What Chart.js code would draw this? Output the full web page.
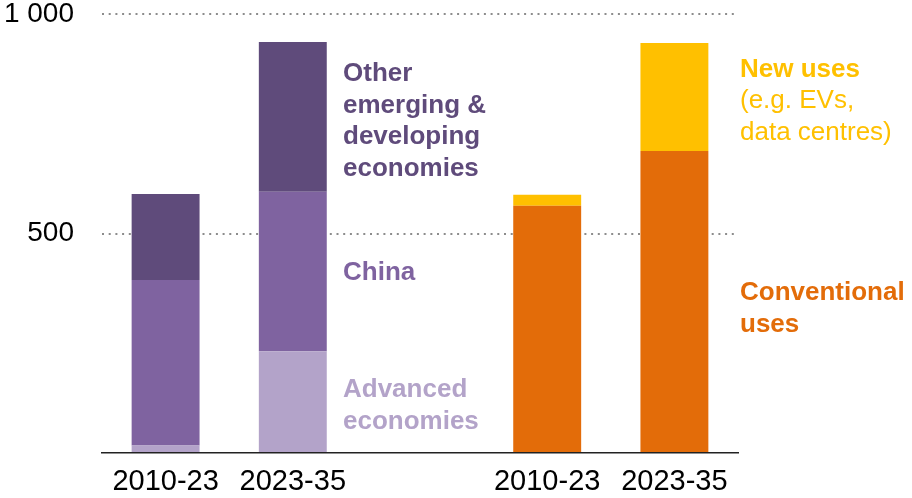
<!DOCTYPE html>
<html>
<head>
<meta charset="utf-8">
<script src="https://cdn.jsdelivr.net/npm/chart.js@4"></script>
<style>
  html, body { margin: 0; padding: 0; background: #fff; }
  #wrap { width: 912px; height: 498px; }
</style>
</head>
<body>
<div id="wrap"><canvas id="chart"></canvas></div>
<script>
// periods, with an empty slot separating the two groups
const categories = ['2010-23', '2023-35', '', '2010-23', '2023-35'];

// by region
const advanced      = [17, 232, null, null, null];
const china         = [377, 363, null, null, null];
const otherEmerging = [196, 341, null, null, null];

// by use
const conventional = [null, null, null, 563, 688];
const newUses      = [null, null, null, 25, 246];

const yTicks = [0, 500, 1000];
const yTickLabels = ['', '500', '1 000'];

const FONT = '"Liberation Sans", Arial, sans-serif';

// text labels to the right of the bars
const notes = [
    { x: 343, y: 81, color: '#5F4B7B', bold: true, lines: ['Other', 'emerging &', 'developing', 'economies'] },
    { x: 343, y: 280, color: '#7F63A0', bold: true, lines: ['China'] },
    { x: 343, y: 397, color: '#B3A3C9', bold: true, lines: ['Advanced', 'economies'] },
    { x: 740, y: 77, color: '#FFC000', bold: true, lines: ['New uses'] },
    { x: 740, y: 108, color: '#FFC000', bold: false, lines: ['(e.g. EVs,', 'data centres)'] },
    { x: 740, y: 300, color: '#E36C09', bold: true, lines: ['Conventional', 'uses'] }
];

const notesPlugin = {
    id: 'notes',
    afterDatasetsDraw(chart) {
        const ctx = chart.ctx;
        ctx.save();
        ctx.textAlign = 'left';
        ctx.textBaseline = 'alphabetic';
        notes.forEach(n => {
            ctx.fillStyle = n.color;
            ctx.font = (n.bold ? 'bold ' : '') + '26px ' + FONT;
            n.lines.forEach((line, i) => ctx.fillText(line, n.x, n.y + i * 31.5));
        });
        ctx.restore();
    }
};

function bar(label, data, color) {
    return {
        label, data,
        backgroundColor: color,
        stack: 'all',
        barPercentage: 0.534,
        categoryPercentage: 1
    };
}

const chart = new Chart(document.getElementById('chart'), {
    type: 'bar',
    data: {
        labels: categories,
        datasets: [
            bar('Advanced economies', advanced, '#B3A3C9'),
            bar('China', china, '#7F63A0'),
            bar('Other emerging & developing economies', otherEmerging, '#5F4B7B'),
            bar('Conventional uses', conventional, '#E36C09'),
            bar('New uses', newUses, '#FFC000')
        ]
    },
    options: {
        responsive: true,
        maintainAspectRatio: false,
        animation: false,
        layout: { padding: { top: 14, right: 174, bottom: 0, left: 0 } },
        plugins: {
            legend: { display: false },
            tooltip: { enabled: false }
        },
        scales: {
            x: {
                stacked: true,
                grid: { display: false, drawTicks: false },
                border: { display: true, color: '#222', width: 1.5 },
                ticks: {
                    color: '#000',
                    font: { family: FONT, size: 29 },
                    padding: 12,
                    maxRotation: 0,
                    autoSkip: false
                },
                afterFit(scale) {
                    scale.height = 45;
                    scale.paddingLeft = 0;
                    scale.paddingRight = 0;
                }
            },
            y: {
                stacked: true,
                min: 0,
                max: 1000,
                afterBuildTicks(scale) {
                    scale.ticks = yTicks.map(v => ({ value: v }));
                },
                grid: {
                    drawTicks: false,
                    lineWidth: 2,
                    color: ctx => ctx.tick && ctx.tick.value === 0 ? 'rgba(0,0,0,0)' : '#8C8C8C'
                },
                border: { display: false, dash: [2, 4.7] },
                ticks: {
                    color: '#000',
                    font: { family: FONT, size: 28 },
                    padding: 28,
                    callback: (value) => yTickLabels[yTicks.indexOf(value)]
                },
                afterFit(scale) {
                    scale.width = 102;
                    scale.paddingTop = 0;
                    scale.paddingBottom = 0;
                }
            }
        }
    },
    plugins: [notesPlugin]
});
</script>
</body>
</html>
